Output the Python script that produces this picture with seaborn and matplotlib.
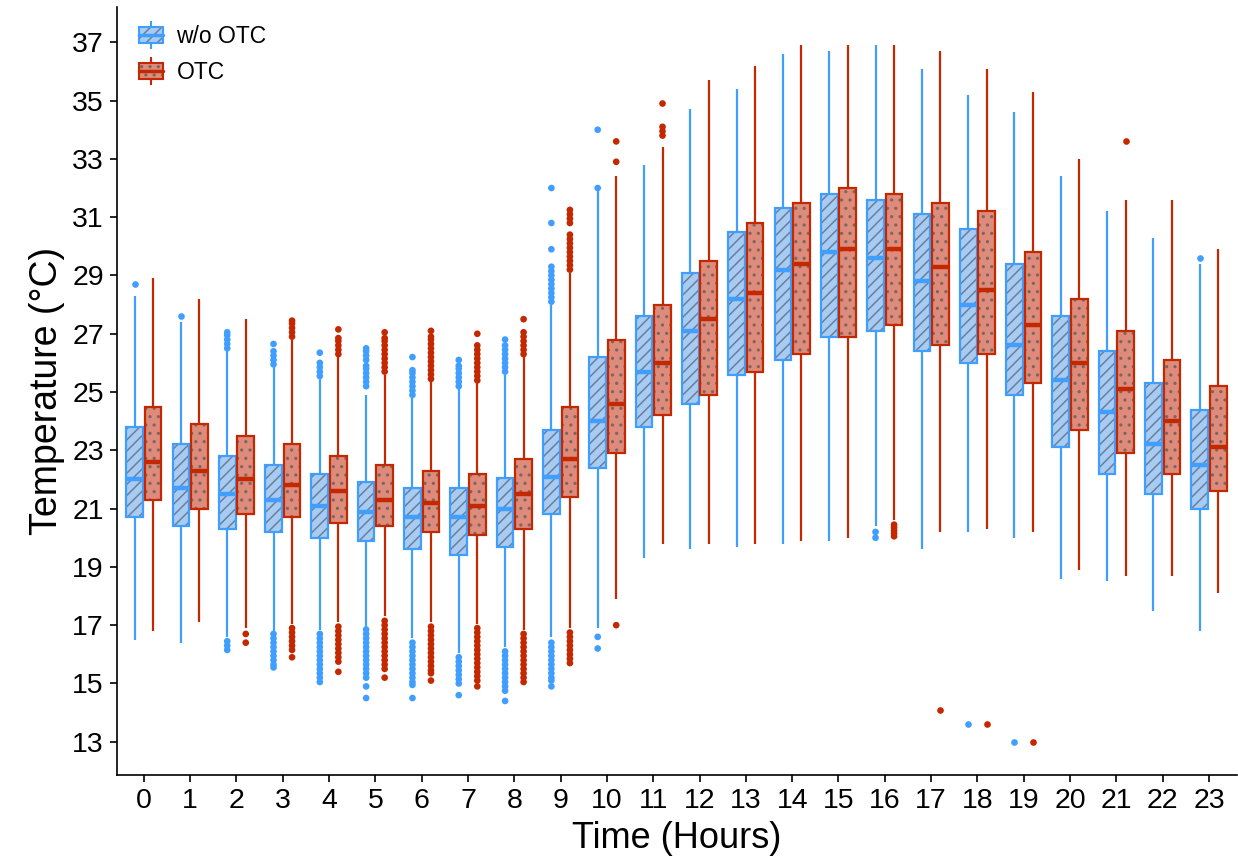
import numpy as np
import pandas as pd
import matplotlib
matplotlib.use("Agg")
import matplotlib.pyplot as plt
import seaborn as sns
from matplotlib import colors as mcolors
from matplotlib.patches import Patch
from matplotlib.lines import Line2D
from matplotlib.legend_handler import HandlerTuple

# ---------------- data ----------------
hours = list(range(24))
groups = ["w/o OTC", "OTC"]

blue_lo = [16.5, 16.4, 16.6, 16.8, 16.85, 16.95, 16.55, 16.05, 16.25, 16.6, 16.9, 19.3, 19.6, 19.7, 19.8, 19.9, 20.4, 19.6, 20.2, 20.0, 18.6, 18.5, 17.5, 16.8]
blue_q1 = [20.7, 20.4, 20.3, 20.2, 20.0, 19.9, 19.6, 19.4, 19.7, 20.8, 22.4, 23.8, 24.6, 25.6, 26.1, 26.9, 27.1, 26.4, 26.0, 24.9, 23.1, 22.2, 21.5, 21.0]
blue_med = [22.0, 21.7, 21.5, 21.3, 21.1, 20.9, 20.7, 20.7, 21.0, 22.1, 24.0, 25.7, 27.1, 28.2, 29.2, 29.8, 29.6, 28.8, 28.0, 26.6, 25.4, 24.3, 23.2, 22.5]
blue_q3 = [23.8, 23.2, 22.8, 22.5, 22.2, 21.9, 21.7, 21.7, 22.05, 23.7, 26.2, 27.6, 29.1, 30.5, 31.3, 31.8, 31.6, 31.1, 30.6, 29.4, 27.6, 26.4, 25.3, 24.4]
blue_hi = [28.3, 27.4, 26.4, 25.9, 25.5, 24.9, 24.8, 25.1, 25.6, 28.0, 31.9, 32.8, 34.7, 35.4, 36.6, 36.7, 36.9, 36.1, 35.2, 34.6, 32.4, 31.2, 30.3, 29.4]

red_lo = [16.8, 17.1, 16.9, 17.05, 17.1, 17.3, 17.1, 17.05, 16.85, 16.9, 17.9, 19.8, 19.8, 19.8, 19.9, 20.0, 20.6, 20.2, 20.3, 20.2, 18.9, 18.7, 18.7, 18.1]
red_q1 = [21.3, 21.0, 20.8, 20.7, 20.5, 20.4, 20.2, 20.1, 20.3, 21.4, 22.9, 24.2, 24.9, 25.7, 26.3, 26.9, 27.3, 26.6, 26.3, 25.3, 23.7, 22.9, 22.2, 21.6]
red_med = [22.6, 22.3, 22.0, 21.8, 21.6, 21.3, 21.2, 21.1, 21.5, 22.7, 24.6, 26.0, 27.5, 28.4, 29.4, 29.9, 29.9, 29.3, 28.5, 27.3, 26.0, 25.1, 24.0, 23.1]
red_q3 = [24.5, 23.9, 23.5, 23.2, 22.8, 22.5, 22.3, 22.2, 22.7, 24.5, 26.8, 28.0, 29.5, 30.8, 31.5, 32.0, 31.8, 31.5, 31.2, 29.8, 28.2, 27.1, 26.1, 25.2]
red_hi = [28.9, 28.2, 27.5, 26.8, 26.2, 25.6, 25.4, 25.3, 26.2, 29.1, 32.4, 33.4, 35.7, 36.2, 36.9, 36.9, 36.9, 36.7, 36.1, 35.3, 33.0, 31.6, 31.6, 29.9]

blue_out = [
    [28.7],
    [27.6],
    [16.15, 16.3, 16.45, 26.5, 26.65, 26.8, 26.95, 27.05],
    [25.95, 26.1, 26.25, 26.4, 26.65, 16.7, 16.55, 16.4, 16.25, 16.1, 15.95, 15.8, 15.65, 15.55],
    [25.55, 25.7, 25.85, 26.0, 26.35, 16.7, 16.55, 16.4, 16.25, 16.1, 15.95, 15.8, 15.65, 15.5, 15.35, 15.2, 15.05],
    [25.2, 25.35, 25.5, 25.65, 25.8, 25.9, 26.1, 26.25, 26.4, 26.5, 16.85, 16.7, 16.55, 16.4, 16.25, 16.1, 15.95, 15.8, 15.65, 15.5, 15.35, 15.2, 14.9, 14.5],
    [24.9, 25.05, 25.2, 25.35, 25.5, 25.65, 25.75, 26.2, 16.4, 16.25, 16.1, 15.95, 15.8, 15.65, 15.5, 15.35, 15.2, 15.05, 14.95, 14.5],
    [25.2, 25.35, 25.5, 25.65, 25.8, 25.9, 26.1, 15.9, 15.75, 15.6, 15.45, 15.3, 15.15, 15.0, 14.6],
    [25.7, 25.85, 26.0, 26.15, 26.3, 26.45, 26.6, 26.8, 16.1, 15.95, 15.8, 15.65, 15.5, 15.35, 15.2, 15.05, 14.9, 14.75, 14.4],
    [28.1, 28.25, 28.4, 28.55, 28.7, 28.85, 29.0, 29.15, 29.3, 29.9, 30.8, 32.0, 16.4, 16.25, 16.1, 15.95, 15.8, 15.65, 15.5, 15.35, 15.2, 15.1, 14.9],
    [32.0, 34.0, 16.6, 16.2],
    [], [], [], [], [],
    [20.0, 20.2],
    [],
    [13.6],
    [13.0],
    [], [], [],
    [29.6],
]
red_out = [
    [], [],
    [16.7, 16.4],
    [26.9, 27.05, 27.2, 27.35, 27.45, 16.9, 16.75, 16.6, 16.45, 16.3, 16.15, 15.9],
    [26.3, 26.45, 26.6, 26.75, 26.85, 27.15, 16.95, 16.8, 16.65, 16.5, 16.35, 16.2, 16.05, 15.9, 15.75, 15.4],
    [25.7, 25.85, 26.0, 26.15, 26.3, 26.45, 26.6, 26.75, 26.85, 27.05, 17.15, 17.0, 16.85, 16.7, 16.55, 16.4, 16.25, 16.1, 15.95, 15.8, 15.65, 15.5, 15.2],
    [25.45, 25.6, 25.75, 25.9, 26.05, 26.2, 26.35, 26.5, 26.65, 26.8, 26.9, 27.1, 16.95, 16.8, 16.65, 16.5, 16.35, 16.2, 16.05, 15.9, 15.75, 15.6, 15.45, 15.35, 15.1],
    [25.4, 25.55, 25.7, 25.85, 26.0, 26.15, 26.3, 26.45, 26.6, 27.0, 16.9, 16.75, 16.6, 16.45, 16.3, 16.15, 16.0, 15.85, 15.7, 15.55, 15.4, 15.25, 15.1, 14.9],
    [26.3, 26.45, 26.6, 26.75, 26.9, 27.05, 27.5, 16.7, 16.55, 16.4, 16.25, 16.1, 15.95, 15.8, 15.65, 15.5, 15.35, 15.2, 15.05],
    [29.2, 29.35, 29.5, 29.65, 29.8, 29.95, 30.1, 30.25, 30.4, 30.8, 30.95, 31.1, 31.25, 16.75, 16.6, 16.45, 16.3, 16.15, 16.0, 15.85, 15.7],
    [32.9, 33.6, 17.0],
    [33.8, 33.95, 34.1, 34.9],
    [], [], [], [],
    [20.05, 20.15, 20.25, 20.35, 20.45],
    [14.1],
    [13.6],
    [13.0],
    [],
    [33.6],
    [], [],
]

y_ticks = list(range(13, 38, 2))

# ---------------- style ----------------
blue_line, blue_fill = "#409EFF", "#A6CBF4"
red_line, red_fill = "#C42800", "#DE8B7B"
line_colors = dict(zip(groups, [blue_line, red_line]))
fill_colors = dict(zip(groups, [blue_fill, red_fill]))
hatches = dict(zip(groups, ["///", ".."]))
hatch_cols = dict(zip(groups, ["#6F7F92", "#7A6660"]))

sns.set_style("ticks")
plt.rcParams["font.family"] = ["Liberation Sans", "DejaVu Sans"]
plt.rcParams["hatch.linewidth"] = 1.1
plt.rcParams["text.color"] = "black"
plt.rcParams["axes.labelcolor"] = "black"


def set_hc(p, c):
    try:
        p.set_hatchcolor(c)
    except AttributeError:
        p._hatch_color = mcolors.to_rgba(c)


rows = []
for i, h in enumerate(hours):
    for g, arrs in zip(groups, [(blue_lo, blue_q1, blue_med, blue_q3, blue_hi),
                                (red_lo, red_q1, red_med, red_q3, red_hi)]):
        for a in arrs:
            rows.append((h, g, a[i]))
box_df = pd.DataFrame(rows, columns=["hour", "group", "temp"])

orows = []
for i, h in enumerate(hours):
    for v in blue_out[i]:
        orows.append((h, groups[0], v))
    for v in red_out[i]:
        orows.append((h, groups[1], v))
out_df = pd.DataFrame(orows, columns=["hour", "group", "temp"])

fig = plt.figure(figsize=(12.38, 8.59), dpi=100)
ax = fig.add_axes([0.0945, 0.0978, 0.9045, 0.894])

for g in groups:
    n0 = len(ax.patches)
    sns.boxplot(data=box_df[box_df["group"] == g], x="hour", y="temp",
                hue="group", hue_order=groups, order=hours,
                palette=fill_colors, saturation=1, dodge=True,
                width=0.8, gap=0.1, whis=(0, 100), showfliers=False,
                showcaps=False, linecolor=line_colors[g], linewidth=1.6,
                medianprops={"linewidth": 3.2}, legend=False, ax=ax)
    for p in ax.patches[n0:]:
        p.set_hatch(hatches[g])
        set_hc(p, hatch_cols[g])

sns.stripplot(data=out_df, x="hour", y="temp", hue="group", hue_order=groups,
              order=hours, palette=line_colors, dodge=True, jitter=False,
              size=4.8, linewidth=0, legend=False, ax=ax)

ax.set_xlim(-0.58, 23.6)
ax.set_ylim(11.86, 38.21)
ax.set_yticks(y_ticks)
ax.set_yticklabels([str(t) for t in y_ticks])
ax.set_xticks(range(len(hours)))
ax.set_xticklabels([str(h) for h in hours])
ax.tick_params(axis="both", length=5, width=1.2, labelsize=20.5, colors="black", pad=4.5)
for s in ["top", "right"]:
    ax.spines[s].set_visible(False)
for s in ["left", "bottom"]:
    ax.spines[s].set_color("black")
    ax.spines[s].set_linewidth(1.2)
ax.set_xlabel("Time (Hours)", fontsize=26, labelpad=5, color="black")
ax.set_ylabel("Temperature (°C)", fontsize=27, labelpad=5, color="black")

handles = []
for g in groups:
    wl = Line2D([], [], color=line_colors[g], marker="|", markersize=20,
                mew=1.5, linestyle="none")
    bp = Patch(facecolor=fill_colors[g], edgecolor=line_colors[g],
               hatch=hatches[g], linewidth=1.5)
    set_hc(bp, hatch_cols[g])
    ml = Line2D([], [], color=line_colors[g], lw=2.5)
    handles.append((wl, bp, ml))
leg = ax.legend(handles, groups, handler_map={tuple: HandlerTuple(ndivide=1, pad=0)},
                loc="upper left", bbox_to_anchor=(0.003, 1.0), frameon=False,
                fontsize=16.5, handlelength=1.05, handleheight=0.7, labelspacing=0.55,
                borderaxespad=0.4, handletextpad=0.6)
for t in leg.get_texts():
    t.set_color("black")

fig.savefig("out.png", dpi=100)
